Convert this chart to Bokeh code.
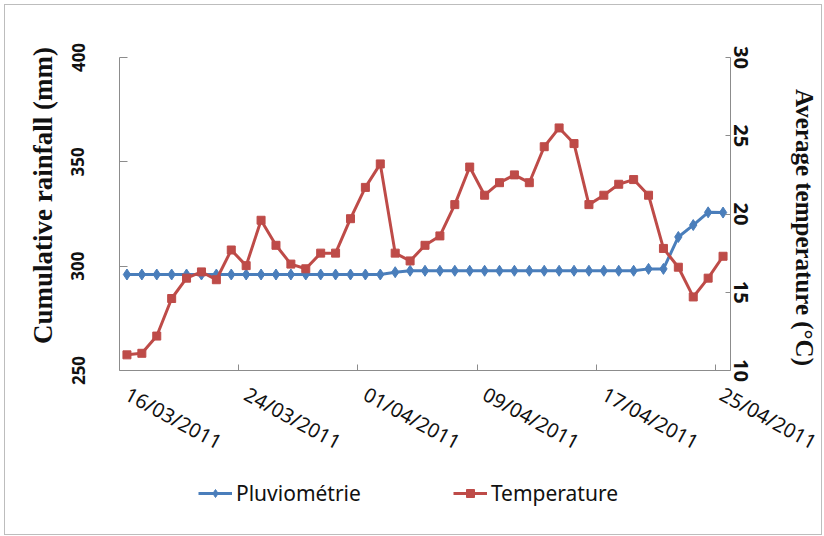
import math
import pandas as pd
from bokeh.plotting import figure
from bokeh.models import (ColumnDataSource, Range1d, LinearAxis, FixedTicker,
                          DatetimeTickFormatter, Legend, LegendItem, Label)
from bokeh.embed import file_html
from bokeh.resources import INLINE

# Daily observations, 16 March - 25 April 2011
dates = pd.date_range("2011-03-16", "2011-04-25", freq="D")

# Cumulative rainfall (mm), left axis
rainfall = [296.0, 296.0, 296.0, 296.0, 296.0, 296.0, 296.0, 296.0, 296.0,
            296.0, 296.0, 296.0, 296.0, 296.0, 296.0, 296.0, 296.0, 296.0,
            297.1, 297.8, 297.8, 297.8, 297.8, 297.8, 297.8, 297.8, 297.8,
            297.8, 297.8, 297.8, 297.8, 297.8, 297.8, 297.8, 297.8, 298.7,
            298.7, 314.0, 319.7, 325.8, 325.7]

# Average daily temperature (°C), right axis
temperature = [11.0, 11.1, 12.2, 14.6, 15.9, 16.3, 15.8, 17.7, 16.7, 19.6,
               18.0, 16.8, 16.5, 17.5, 17.5, 19.7, 21.7, 23.2, 17.5, 17.0,
               18.0, 18.6, 20.6, 23.0, 21.2, 22.0, 22.5, 22.0, 24.3, 25.5,
               24.5, 20.6, 21.2, 21.9, 22.2, 21.2, 17.8, 16.6, 14.7, 15.9,
               17.3]

rain_ticks = [250, 300, 350, 400]
temp_ticks = [10, 15, 20, 25, 30]
label_step = 8

BLUE = "#4A7EBB"
RED = "#BE4B48"
AXIS_GREY = "#8C8C8C"
TEXT = "#111111"

# layout in pixels: the frame covers the whole figure, and the axes are placed
# inside it at fixed positions so that labels, titles and legend are never clipped
FIG_W, FIG_H = 818, 531
AX_L, AX_R, AX_T = 114, 93, 52          # gaps around the axes box
AX_W = FIG_W - AX_L - AX_R
AX_H = 313
AX_B = FIG_H - AX_T - AX_H

half_day = pd.Timedelta(hours=12)


def ms(ts):
    return ts.timestamp() * 1000.0


x_lo = ms(dates[0] - half_day)
x_hi = ms(dates[-1] + half_day)
ms_per_px = (x_hi - x_lo) / AX_W
rain_per_px = (rain_ticks[-1] - rain_ticks[0]) / AX_H
temp_per_px = (temp_ticks[-1] - temp_ticks[0]) / AX_H

x_range = Range1d(x_lo - AX_L * ms_per_px, x_hi + AX_R * ms_per_px)
y_range = Range1d(rain_ticks[0] - AX_B * rain_per_px, rain_ticks[-1] + AX_T * rain_per_px)
temp_range = Range1d(temp_ticks[0] - AX_B * temp_per_px, temp_ticks[-1] + AX_T * temp_per_px)


def px_x(px):
    return x_range.start + px * ms_per_px


def px_y(py):
    return y_range.end - py * rain_per_px


src = ColumnDataSource(dict(date=dates, rain=rainfall, temp=temperature))

p = figure(width=FIG_W, height=FIG_H, x_axis_type="datetime",
           x_range=x_range, y_range=y_range,
           output_backend="svg", toolbar_location=None,
           min_border_left=0, min_border_right=0,
           min_border_top=0, min_border_bottom=0)
p.extra_y_ranges = {"temp": temp_range}
p.styles = {"border": "1px solid #BDBDBD", "margin-left": "4px", "margin-top": "4px"}
p.outline_line_color = None
p.xgrid.visible = False
p.ygrid.visible = False

# x axis on the 250 mm line; a label every 8 days, tick marks between day slots
xa = p.xaxis[0]
xa.fixed_location = rain_ticks[0]
xa.bounds = (x_lo, x_hi)
xa.ticker = FixedTicker(ticks=[ms(d) for d in dates[::label_step]],
                        minor_ticks=[ms(d + half_day) for d in dates[label_step - 1::label_step]])
fmt = "%d/%m/%Y"
xa.formatter = DatetimeTickFormatter(days=fmt, months=fmt, years=fmt, hours=fmt,
                                     hourmin=fmt, minutes=fmt, minsec=fmt,
                                     seconds=fmt, milliseconds=fmt, microseconds=fmt)
xa.major_label_orientation = -0.5
xa.major_tick_in = 0
xa.major_tick_out = 0
xa.minor_tick_in = 6
xa.minor_tick_out = 0
xa.axis_line_color = AXIS_GREY
xa.minor_tick_line_color = AXIS_GREY
xa.major_label_text_font = "Noto Sans"
xa.major_label_text_font_size = "20px"
xa.major_label_text_color = TEXT
xa.major_label_standoff = 22

# left axis: rainfall
ya = p.yaxis[0]
ya.fixed_location = x_lo
ya.bounds = (rain_ticks[0], rain_ticks[-1])
ya.ticker = FixedTicker(ticks=rain_ticks)
ya.major_label_orientation = "vertical"
ya.major_label_text_font = "Noto Sans"
ya.major_label_text_font_style = "bold"
ya.major_label_text_font_size = "17px"
ya.major_label_text_color = TEXT
ya.major_label_standoff = 35
ya.major_tick_in = 8
ya.major_tick_out = 0
ya.minor_tick_in = 0
ya.minor_tick_out = 0
ya.axis_line_color = AXIS_GREY
ya.major_tick_line_color = AXIS_GREY

# right axis: temperature
ra = LinearAxis(y_range_name="temp", ticker=FixedTicker(ticks=temp_ticks),
                bounds=(temp_ticks[0], temp_ticks[-1]), fixed_location=x_hi)
ra.major_label_orientation = "vertical"
ra.major_label_text_font = "Noto Sans"
ra.major_label_text_font_style = "bold"
ra.major_label_text_font_size = "20px"
ra.major_label_text_color = TEXT
ra.major_label_standoff = 3
ra.major_tick_in = 5
ra.major_tick_out = 0
ra.minor_tick_in = 0
ra.minor_tick_out = 0
ra.axis_line_color = AXIS_GREY
ra.major_tick_line_color = AXIS_GREY
p.add_layout(ra, "right")

# axis titles
p.add_layout(Label(x=px_x(37), y=px_y(190), text="Cumulative rainfall (mm)",
                   angle=math.pi / 2, text_align="center", text_baseline="middle",
                   text_font="Liberation Serif", text_font_style="bold",
                   text_font_size="27px", text_color=TEXT))
p.add_layout(Label(x=px_x(799), y=px_y(222), text="Average temperature (°C)",
                   angle=-math.pi / 2, text_align="center", text_baseline="middle",
                   text_font="Liberation Serif", text_font_style="bold",
                   text_font_size="25px", text_color=TEXT))

# series
rain_line = p.line("date", "rain", source=src, line_color=BLUE, line_width=3)
rain_pts = p.scatter("date", "rain", source=src, marker="diamond", size=11,
                     fill_color=BLUE, line_color=BLUE)
temp_line = p.line("date", "temp", source=src, y_range_name="temp",
                   line_color=RED, line_width=3)
temp_pts = p.scatter("date", "temp", source=src, y_range_name="temp",
                     marker="square", size=8, fill_color=RED, line_color=RED)

legend = Legend(items=[LegendItem(label="Pluviométrie", renderers=[rain_line, rain_pts]),
                       LegendItem(label="Temperature", renderers=[temp_line, temp_pts])],
                orientation="horizontal", location=(AX_L + 79, 29),
                border_line_color=None, background_fill_alpha=0,
                glyph_width=34, glyph_height=20, label_standoff=4, spacing=92,
                padding=0, margin=0,
                label_text_font="Noto Sans", label_text_font_size="21px",
                label_text_color=TEXT)
p.add_layout(legend)

open("out.html", "w").write(file_html(p, INLINE))
